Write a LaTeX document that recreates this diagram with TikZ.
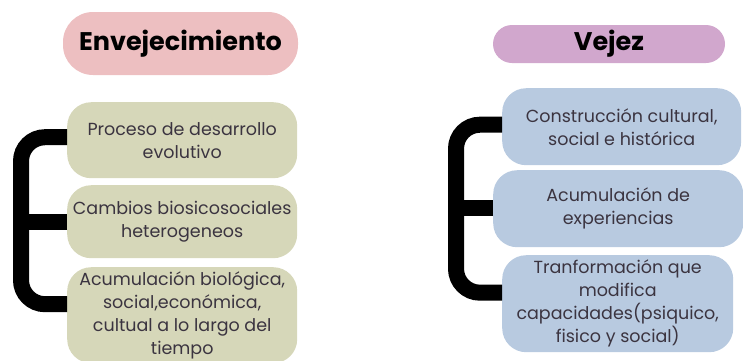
\documentclass[tikz,border=0pt]{standalone}
\usepackage{fontspec}
\setmainfont{Poppins}
\definecolor{pinkT}{HTML}{EDBFC1}
\definecolor{purpT}{HTML}{D1A7CD}
\definecolor{oliveB}{HTML}{D6D7B9}
\definecolor{blueB}{HTML}{B8CAE0}
\definecolor{txt}{HTML}{3B3440}
\begin{document}
\begin{tikzpicture}[x=1pt,y=-1pt,
  titlebox/.style={inner sep=0pt, text=black, font=\bfseries\fontsize{25.5}{29}\selectfont},
  box/.style={anchor=north west, inner sep=0pt, align=center, text=txt,
    font=\fontsize{17.5}{23}\selectfont, rounded corners=24pt},
  bracket/.style={line width=16pt, rounded corners=24pt}]
\path[use as bounding box] (0,0) rectangle (743,360);
\clip (0,0) rectangle (743,360);
% titles
\node[titlebox, fill=pinkT, rounded corners=30pt, minimum width=235pt, minimum height=63pt] (t1) at (180.5,43.5) {Envejecimiento};
\node[titlebox, fill=purpT, rounded corners=19pt, minimum width=232pt, minimum height=38pt] (t2) at (609,44) {Vejez};
% left boxes
\node[box, fill=oliveB, minimum width=230pt, minimum height=76pt] (l1) at (67,102) {Proceso de desarrollo\\evolutivo};
\node[box, fill=oliveB, minimum width=230pt, minimum height=73pt] (l2) at (67,185) {Cambios biosicosociales\\heterogeneos};
\node[box, fill=oliveB, minimum width=230pt, minimum height=96pt] (l3) at (67,267) {Acumulación biológica,\\social,económica,\\cultual a lo largo del\\tiempo};
% right boxes
\node[box, fill=blueB, minimum width=239pt, minimum height=77pt] (r1) at (502,88) {Construcción cultural,\\social e histórica};
\node[box, fill=blueB, minimum width=250pt, minimum height=77pt] (r2) at (493,170) {Acumulación de\\experiencias};
\node[box, fill=blueB, minimum width=231pt, minimum height=97pt] (r3) at (502,255) {Tranformación que\\modifica\\capacidades(psiquico,\\fisico y social)};
% brackets
\draw[bracket] ([yshift=3pt]l1.west) -- ++(-46,0) |- ([yshift=11pt]l3.west);
\draw[line width=16pt] (l2.west) -- ++(-46,0);
\draw[bracket] ([yshift=2pt]r1.west) -- ++(-46,0) |- ([yshift=11pt]r3.west);
\draw[line width=16pt] ([yshift=1pt]r2.west) -- ++(-37,0);
\end{tikzpicture}
\end{document}
